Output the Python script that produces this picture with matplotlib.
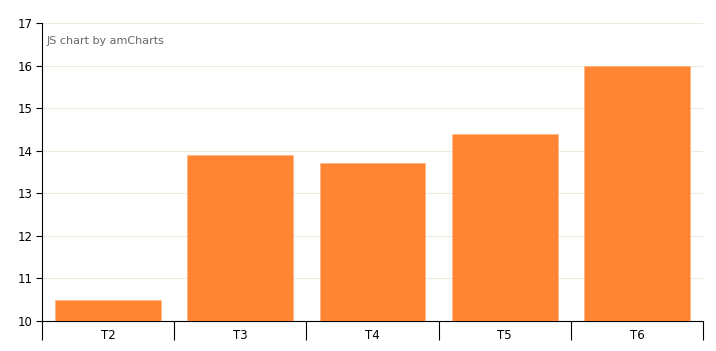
import matplotlib.pyplot as plt
import numpy as np

categories = ["T2", "T3", "T4", "T5", "T6"]
values = [10.5, 13.9, 13.7, 14.4, 16.0]
yticks = [10, 11, 12, 13, 14, 15, 16, 17]

fig = plt.figure(figsize=(7.16, 3.51), dpi=100)
ax = fig.add_axes([42 / 716, 30 / 351, 661 / 716, 298 / 351])

x = np.arange(len(categories))
ax.bar(x, [v - 10 for v in values], bottom=10, width=0.8, color="#ff8533",
       edgecolor="#ffb380", linewidth=0.5, zorder=3)

ax.set_xlim(-0.5, len(categories) - 0.5)
ax.set_ylim(10, 17)
ax.set_yticks(yticks)
ax.set_yticklabels([str(t) for t in yticks], fontsize=8.5, color="#000000")
ax.grid(axis="y", color="#efeadb", linewidth=0.8, zorder=0)

ax.set_xticks(x)
ax.set_xticklabels(categories, fontsize=8.5)
ax.tick_params(axis="x", which="major", length=0, pad=6)
ax.set_xticks(np.arange(-0.5, len(categories)), minor=True)
ax.tick_params(axis="x", which="minor", length=13.5, width=0.8, color="black")
ax.tick_params(axis="y", length=4, width=0.8, pad=3)

ax.spines["top"].set_visible(False)
ax.spines["right"].set_visible(False)
ax.spines["left"].set_linewidth(0.8)
ax.spines["bottom"].set_linewidth(0.8)

ax.text(47 / 716, 1 - 41 / 351, "JS chart by amCharts", transform=fig.transFigure,
        fontsize=8, color="#666666", va="center", ha="left")

fig.savefig("out.png", dpi=100)
